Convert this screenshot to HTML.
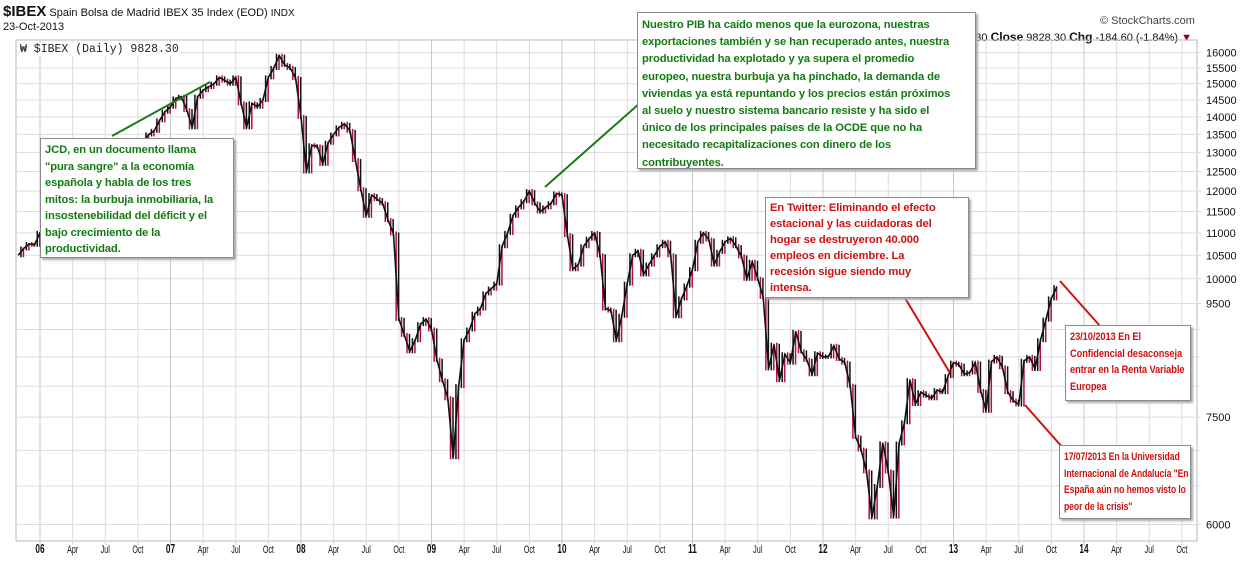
<!DOCTYPE html>
<html><head><meta charset="utf-8">
<style>
body{margin:0;background:#fff;width:1254px;height:576px;overflow:hidden;font-family:"Liberation Sans",sans-serif;position:relative}
.note{position:absolute;background:#fff;border:1px solid #8a8a8a;box-shadow:2px 2px 2px #aaa;font-weight:bold;font-size:11.2px;padding:3px 4px;box-sizing:border-box;white-space:nowrap;letter-spacing:-0.1px;overflow:hidden}
.g{color:#137a13}.r{color:#d01010}
.tight{padding-left:4px}
.tight span{display:inline-block;transform:scaleX(0.83);transform-origin:0 0;font-size:11.2px}
#uni span{transform:scaleX(0.77)}
</style></head><body>
<div style="position:absolute;left:3px;top:3px;font-size:11px;color:#111;white-space:nowrap">
<span style="font-size:15px;font-weight:bold">$IBEX</span> Spain Bolsa de Madrid IBEX 35 Index (EOD) <span style="font-size:10px">INDX</span></div>
<div style="position:absolute;left:3px;top:21px;font-size:11px;color:#111">23-Oct-2013</div>
<div style="position:absolute;left:1100px;top:15px;font-size:11px;color:#444">© StockCharts.com</div>
<div style="position:absolute;right:62px;top:30px;font-size:11px;color:#111;white-space:nowrap">.30 <b style="font-size:12px">Close</b> 9828.30 <b style="font-size:12px">Chg</b> -184.60 (-1.84%) <span style="color:#8b0030">▼</span></div>
<svg id="chart" width="1254" height="576" style="position:absolute;left:0;top:0"></svg>
<div style="position:absolute;left:20px;top:43px;font-family:'Liberation Mono',monospace;font-size:11.5px;color:#222;background:#fff">₩ $IBEX (Daily) 9828.30</div>

<div class="note g" style="left:40px;top:138px;width:194px;height:120px;line-height:16.5px;padding-top:3px">JCD, en un documento llama<br>"pura sangre" a la economía<br>española y habla de los tres<br>mitos: la burbuja inmobiliaria, la<br>insostenebilidad del déficit y el<br>bajo crecimiento de la<br>productividad.</div>
<div class="note g" style="left:637px;top:12px;width:339px;height:157px;line-height:17.2px;padding-top:4px">Nuestro PIB ha caído menos que la eurozona, nuestras<br>exportaciones también y se han recuperado antes, nuestra<br>productividad ha explotado y ya supera el promedio<br>europeo, nuestra burbuja ya ha pinchado, la demanda de<br>viviendas ya está repuntando y los precios están próximos<br>al suelo y nuestro sistema bancario resiste y ha sido el<br>único de los principales países de la OCDE que no ha<br>necesitado recapitalizaciones con dinero de los<br>contribuyentes.</div>
<div class="note r" style="left:765px;top:197px;width:204px;height:101px;line-height:16px;padding-top:2px">En Twitter: Eliminando el efecto<br>estacional y las cuidadoras del<br>hogar se destruyeron 40.000<br>empleos en diciembre. La<br>recesión sigue siendo muy<br>intensa.</div>
<div class="note r tight" style="left:1065px;top:325px;width:126px;height:76px;line-height:16.5px"><span>23/10/2013 En El<br>Confidencial desaconseja<br>entrar en la Renta Variable<br>Europea</span></div>
<div id="uni" class="note r tight" style="left:1059px;top:445px;width:132px;height:74px;line-height:16.5px"><span>17/07/2013 En la Universidad<br>Internacional de Andalucía "En<br>España aún no hemos visto lo<br>peor de la crisis"</span></div>

<script>
const yTicks=[16000,15500,15000,14500,14000,13500,13000,12500,12000,11500,11000,10500,10000,9500,9000,8500,8000,7500,7000,6500,6000];
const yLabels=[16000,15500,15000,14500,14000,13500,13000,12500,12000,11500,11000,10500,10000,9500,7500,6000];
const xLabels=["06","Apr","Jul","Oct","07","Apr","Jul","Oct","08","Apr","Jul","Oct","09","Apr","Jul","Oct","10","Apr","Jul","Oct","11","Apr","Jul","Oct","12","Apr","Jul","Oct","13","Apr","Jul","Oct","14","Apr","Jul","Oct"];
// semi-monthly closes from Nov 2005 to Oct 2013
const closes=[10500,10650,10750,10734,
11000,11050,11400,11650,11850,11900,12050,11900,11600,11100,10900,11400,11500,11700,11900,12100,12300,12350,12900,13300,13500,13600,13900,14150,
14300,14550,14600,14200,13700,14600,14800,14900,15000,15200,15100,15000,15200,14400,13700,14400,14300,14500,15200,15500,15900,15600,15500,15182,
14000,12500,13200,13170,12700,13269,13500,13700,13800,13600,12800,12046,11400,11900,11800,11700,11300,10987,9200,8900,8600,8800,9100,9195,
9000,8450,8100,7800,6900,8000,8800,9000,9300,9400,9700,9800,9900,10700,11000,11400,11600,11750,12000,11700,11500,11600,11700,11940,
11900,10950,10200,10300,10700,10870,11000,10500,9400,9360,8800,9260,9900,10500,10600,10090,10300,10500,10700,10800,10500,9250,9600,9860,
10200,10800,11000,10850,10300,10576,10800,10878,10700,10476,10000,10360,10000,9630,8300,8718,8100,8546,8400,8955,8600,8449,8200,8566,
8500,8509,8700,8465,8400,8008,7200,7011,6700,6089,6500,7102,6700,6100,7100,7420,8100,7708,7900,7843,7800,7934,7900,8168,
8400,8362,8200,8230,8400,7920,7600,8419,8500,8320,7900,7762,7700,8433,8500,8290,8800,9186,9600,9828];
const svg=document.getElementById('chart');
const NS='http://www.w3.org/2000/svg';
const L=16,R=1197,T=40,B=541;
const yScale=v=>52.7+481*Math.log(16000/v);
const xMonth=m=>40+m*10.875;
const xIdx=i=>xMonth(i*0.5-2);
function mk(tag,attrs){const e=document.createElementNS(NS,tag);for(const k in attrs)e.setAttribute(k,attrs[k]);svg.appendChild(e);return e;}
const fr=mk('rect',{x:L,y:T,width:R-L,height:B-T,fill:'none',stroke:'#b8b8b8'});


yTicks.forEach(v=>{const y=yScale(v);const g=mk('line',{x1:L,x2:R+4,y1:y,y2:y,stroke:'#dcdcdc'});

});
yLabels.forEach(v=>{const t=mk('text',{x:1206,y:yScale(v)+4,'font-size':11,fill:'#111','font-family':'Liberation Sans, sans-serif'});t.textContent=v;

});
xLabels.forEach((s,q)=>{const x=xMonth(q*3);const g=mk('line',{x1:x,x2:x,y1:T,y2:B+4,stroke:q%4==0?'#c8c8c8':'#dcdcdc'});


const yr=q%4==0;const t=mk('text',{x:x,y:553,'text-anchor':'middle','font-size':yr?11:9.5,'font-weight':yr?'bold':'normal',fill:'#111','font-family':'Liberation Sans, sans-serif',transform:`translate(${x},553) scale(0.75,1.15) translate(${-x},-553)`});t.textContent=s;

});
for(let i=1;i<closes.length;i++){const a=yScale(closes[i-1]),b=yScale(closes[i]);const dn=closes[i]<closes[i-1];
const top=Math.min(a,b)-2,h=Math.abs(a-b)+4;
const r=mk('rect',{x:xIdx(i)-3.5,y:top,width:1.5,height:h,fill:dn?'#b0103a':'#111'});


const r2=mk('rect',{x:xIdx(i)-1,y:top+1,width:1.5,height:h-1,fill:dn?'#111':'#b0103a'});

}
const pl=mk('polyline',{points:closes.map((v,i)=>xIdx(i)+','+yScale(v)).join(' '),fill:'none',stroke:'#111','stroke-width':1.6});


[[112,136,210,82,'#1b7a1b'],[545,187,640,103,'#1b7a1b'],[905,298,950,373,'#d01010'],[1060,281,1100,326,'#d01010'],[1025,405,1063,448,'#d01010']].forEach(c=>{
const l=mk('line',{x1:c[0],y1:c[1],x2:c[2],y2:c[3],stroke:c[4],'stroke-width':2});

});
</script>
</body></html>
